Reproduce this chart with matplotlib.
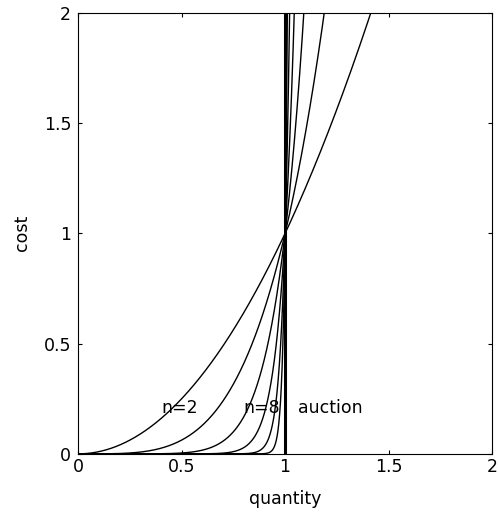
import matplotlib
matplotlib.use("Agg")
import matplotlib.pyplot as plt
import numpy as np

# exponents of the cost curves cost = quantity ** n
n_values = [2, 4, 8, 16, 32, 64]
auction_quantity = 1.0

x_ticks = [0, 0.5, 1, 1.5, 2]
y_ticks = [0, 0.5, 1, 1.5, 2]
x_tick_labels = ["0", "0.5", "1", "1.5", "2"]
y_tick_labels = ["0", "0.5", "1", "1.5", "2"]

labels = ["n=2", "n=8", "auction"]
label_x = [0.40, 0.80, 1.06]
label_y = [0.21, 0.21, 0.21]

plt.rcParams["font.family"] = ["DejaVu Sans"]
fs = 12.5

fig = plt.figure(figsize=(4.98, 5.14), dpi=100)
ax = fig.add_axes([0.157, 0.117, 0.831, 0.858])

q = np.linspace(0, 2, 4001)
for n in n_values:
    ax.plot(q, q ** n, color="black", lw=1.0)

ax.plot([auction_quantity, auction_quantity], [0, 2], color="black", lw=2.2)

for txt, x, y in zip(labels, label_x, label_y):
    ax.text(x, y, txt, fontsize=fs, ha="left", va="center")

ax.set_xlim(0, 2)
ax.set_ylim(0, 2)
ax.set_xticks(x_ticks)
ax.set_xticklabels(x_tick_labels)
ax.set_yticks(y_ticks)
ax.set_yticklabels(y_tick_labels)
ax.tick_params(direction="in", top=True, right=True, length=3, labelsize=fs)
ax.tick_params(axis="y", pad=5)
ax.tick_params(axis="x", pad=3)
ax.set_xlabel("quantity", fontsize=fs, labelpad=10)
ax.set_ylabel("cost", fontsize=fs, labelpad=9)
for s in ax.spines.values():
    s.set_linewidth(0.8)

fig.savefig("out.png", dpi=100)
